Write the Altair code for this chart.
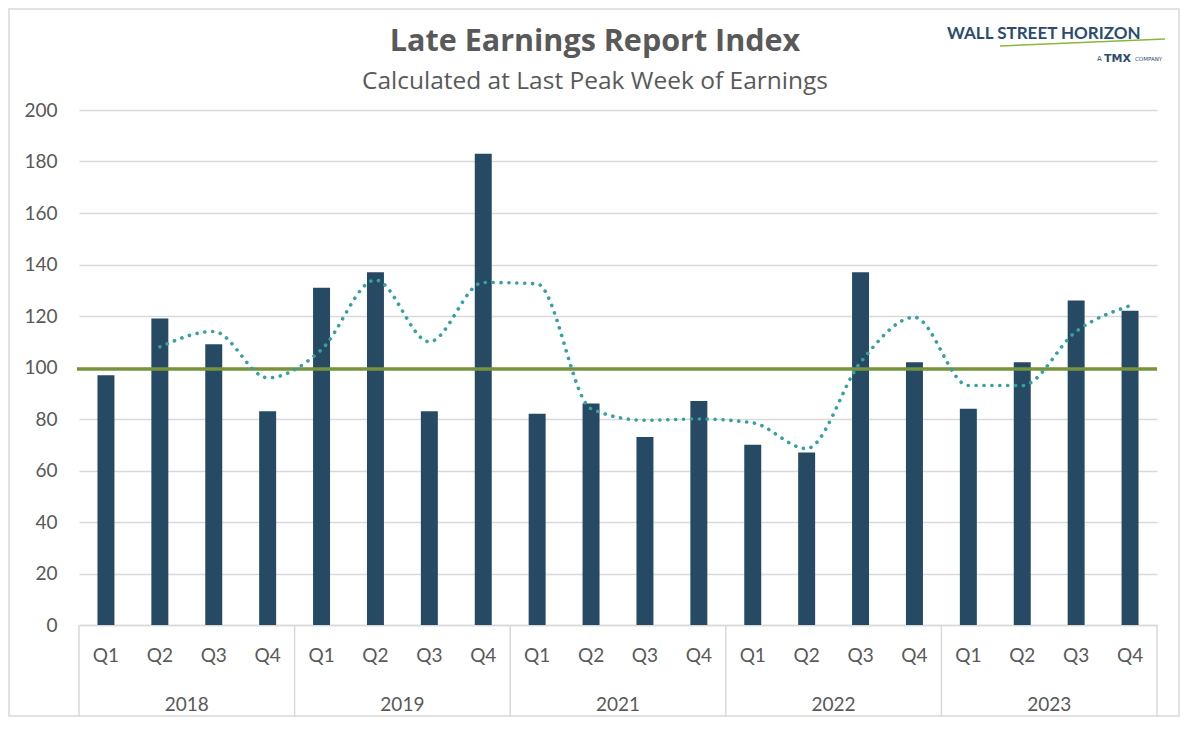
import altair as alt
import pandas as pd

# ---- data ----
years = ["2018", "2019", "2021", "2022", "2023"]
quarters = ["Q1", "Q2", "Q3", "Q4"]
values = [97, 119, 109, 83,
          131, 137, 83, 183,
          82, 86, 73, 87,
          70, 67, 137, 102,
          84, 102, 126, 122]
trend = [None, 108, 114, 96,
         107, 134, 110, 133,
         132.5, 84, 79.5, 80,
         78.5, 68.5, 102, 119.5,
         93, 93, 114, 124]
baseline = [99.4]
y_ticks = [0, 20, 40, 60, 80, 100, 120, 140, 160, 180, 200]

title_text = ["Late Earnings Report Index"]
subtitle_text = ["Calculated at Last Peak Week of Earnings"]

# ---- tables ----
rows = []
i = 0
for yr in years:
    for q in quarters:
        rows.append({"period": f"{yr} {q}", "year": yr, "quarter": q,
                     "value": values[i], "trend": trend[i]})
        i += 1
df = pd.DataFrame(rows)
order = list(df["period"])

FONT = "Lato"
TFONT = "Open Sans"
GREY = "#595959"
GRID = "#D9D9D9"
NAVY = "#2B4C6F"
W, H = 1078, 515

xscale = alt.Scale(domain=order, paddingInner=0, paddingOuter=0)
yscale = alt.Scale(domain=[0, 200], nice=False)

base = alt.Chart(df)

bars = base.mark_bar(color="#264A63", width=alt.RelativeBandSize(0.315)).encode(
    x=alt.X("period:N", scale=xscale, sort=order,
            axis=alt.Axis(title=None, labelExpr="split(datum.value, ' ')[1]",
                          labelAngle=0, labelFontSize=19, labelColor=GREY,
                          labelFont=FONT, labelPadding=21, ticks=False,
                          domainColor=GRID, domainWidth=1.5, grid=False)),
    y=alt.Y("value:Q", scale=yscale,
            axis=alt.Axis(title=None, values=y_ticks, labelFontSize=19,
                          labelColor=GREY, labelFont=FONT, labelPadding=22,
                          grid=True, gridColor=GRID, gridWidth=1.5,
                          domain=False, ticks=False)),
)

base_line = alt.Chart(pd.DataFrame({"v": baseline})).mark_rule(
    color="#77933C", strokeWidth=3.5
).encode(y=alt.Y("v:Q", scale=yscale), x=alt.value(-2), x2=alt.value(W))

trend_line = base.mark_line(
    color="#37A0A0", strokeWidth=3.6, strokeDash=[0.1, 7.8], strokeCap="round",
    interpolate="monotone"
).encode(x=alt.X("period:N", scale=xscale, sort=order),
         y=alt.Y("trend:Q", scale=yscale))

firsts = df[df["quarter"] == "Q1"]
seps = alt.Chart(firsts).mark_rule(color=GRID, strokeWidth=1.5).encode(
    x=alt.X("period:N", scale=xscale, sort=order, bandPosition=0),
    y=alt.value(H), y2=alt.value(H + 95))
sep_end = alt.Chart(firsts.head(1)).mark_rule(color=GRID, strokeWidth=1.5).encode(
    x=alt.value(W), y=alt.value(H), y2=alt.value(H + 95))

seconds = df[df["quarter"] == "Q2"]
year_labels = alt.Chart(seconds).mark_text(
    font=FONT, fontSize=19, color=GREY, baseline="middle", align="center"
).encode(x=alt.X("period:N", scale=xscale, sort=order, bandPosition=1),
         y=alt.value(H + 80), text="year:N")

title = alt.Chart(pd.DataFrame({"t": title_text})).mark_text(
    font=TFONT, fontSize=30.5, fontWeight="bold", color=GREY, baseline="middle"
).encode(text="t:N", x=alt.value(516), y=alt.value(-68))

subtitle = alt.Chart(pd.DataFrame({"t": subtitle_text})).mark_text(
    font=TFONT, fontSize=24.5, color=GREY, baseline="middle"
).encode(text="t:N", x=alt.value(516), y=alt.value(-28))

# logo
logo_main = alt.Chart(pd.DataFrame({"t": ["WALL STREET HORIZON"]})).mark_text(
    font=FONT, fontSize=17, fontWeight="bold",
    color=NAVY, align="left", baseline="middle"
).encode(text="t:N", x=alt.value(947 - 79), y=alt.value(34 - 110))
logo_swoosh = alt.Chart(pd.DataFrame({"t": ["s"]})).mark_rule(
    color="#8DB63C", strokeWidth=1.6
).encode(x=alt.value(1000 - 79), x2=alt.value(1165 - 79),
         y=alt.value(46 - 110), y2=alt.value(39 - 110))
logo_a = alt.Chart(pd.DataFrame({"t": ["A"]})).mark_text(
    font="DejaVu Sans", fontSize=7, color=NAVY, align="left", baseline="middle"
).encode(text="t:N", x=alt.value(1097 - 79), y=alt.value(59 - 110))
logo_tmx = alt.Chart(pd.DataFrame({"t": ["TMX"]})).mark_text(
    font="DejaVu Sans", fontSize=11, fontWeight="bold", color=NAVY,
    align="left", baseline="middle"
).encode(text="t:N", x=alt.value(1104 - 79), y=alt.value(59 - 110))
logo_co = alt.Chart(pd.DataFrame({"t": ["COMPANY"]})).mark_text(
    font="DejaVu Sans", fontSize=5.5, color=NAVY, align="left", baseline="middle"
).encode(text="t:N", x=alt.value(1135 - 79), y=alt.value(59 - 110))

frame = alt.Chart(pd.DataFrame({"t": ["f"]})).mark_rect(
    fill=None, stroke=GRID, strokeWidth=1.5
).encode(x=alt.value(-70), x2=alt.value(W + 22), y=alt.value(-101), y2=alt.value(H + 91))

chart = alt.layer(
    frame, bars, base_line, trend_line, seps, sep_end, year_labels,
    title, subtitle, logo_main, logo_swoosh, logo_a, logo_tmx, logo_co
).resolve_scale(x="shared", y="shared").properties(
    width=W, height=H,
    padding={"left": 71, "top": 102, "right": 23, "bottom": 92},
    autosize=alt.AutoSizeParams(type="none"),
    background="white",
).configure_view(stroke=None)

chart.save("out.html", embed_options={"renderer": "svg", "actions": False})
